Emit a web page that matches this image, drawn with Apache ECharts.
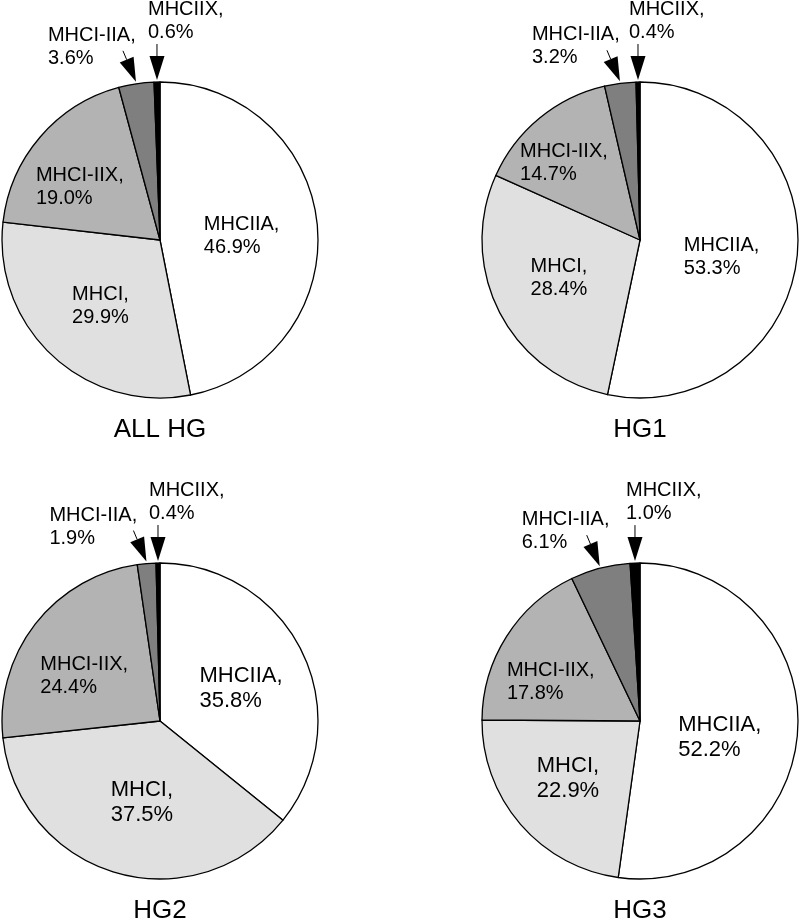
<!DOCTYPE html>
<html><head><meta charset="utf-8">
<script src="https://cdn.jsdelivr.net/npm/echarts@6/dist/echarts.min.js"></script>
<style>html,body{margin:0;padding:0;background:#fff}#c{width:800px;height:922px}</style>
</head><body><div id="c"></div>
<script>
// ---- data ----
const categories = ['MHCIIA', 'MHCI', 'MHCI-IIX', 'MHCI-IIA', 'MHCIIX'];
const groupNames = ['ALL HG', 'HG1', 'HG2', 'HG3'];
const valuesAllHG = [46.9, 29.9, 19.0, 3.6, 0.6];
const valuesHG1   = [53.3, 28.4, 14.7, 3.2, 0.4];
const valuesHG2   = [35.8, 37.5, 24.4, 1.9, 0.4];
const valuesHG3   = [52.2, 22.9, 17.8, 6.1, 1.0];
const sliceColors = ['#ffffff', '#e0e0e0', '#b3b3b3', '#7f7f7f', '#000000'];

// ---- layout ----
const groups = [valuesAllHG, valuesHG1, valuesHG2, valuesHG3];
const centers = [[160, 240], [640, 240], [160, 721], [640, 721]];
const titleTops = [417, 417, 898, 898];
const R = 158;
const FONT = "'Liberation Sans', Arial, Helvetica, sans-serif";
const insideOffsets = [
  [[0, 4], [-4, 6], [-18, 0]],
  [[0, 8], [-8, 1], [-24, -14]],
  [[7, 3], [5, 3], [-11, 5]],
  [[-2, 11], [-10, 4], [-20, 5]]
];
const insideFont = [[20, 20, 20], [20, 20, 20], [22, 22, 20], [22, 22, 20]];
const arrowVec = {3: [-13, -31], 4: [0, -36]};
const outsideLabelDx = [[0, 0], [0, 0], [-9, 0], [10, 0]];

function midAngle(vals, i) {
  const total = vals.reduce((a, b) => a + b, 0);
  let s = 0;
  for (let k = 0; k < i; k++) s += vals[k];
  return (s + vals[i] / 2) / total * 2 * Math.PI;
}
function tipPoint(g, i) {
  const a = midAngle(groups[g], i);
  const c = centers[g];
  return [c[0] + (R + 2) * Math.sin(a), c[1] - (R + 2) * Math.cos(a)];
}
function tailPoint(g, i) {
  const t = tipPoint(g, i), v = arrowVec[i];
  return [t[0] + v[0], t[1] + v[1]];
}

function makeLayout(g) {
  return function (params) {
    const i = params.dataIndex;
    if (i < 3) {
      const r = params.labelRect;
      return { x: r.x + insideOffsets[g][i][0], y: r.y + insideOffsets[g][i][1], align: 'left', verticalAlign: 'top' };
    }
    const tail = tailPoint(g, i);
    if (i === 3) {
      return { x: tail[0] - 75 + outsideLabelDx[g][0], y: tail[1] - 27, align: 'left', verticalAlign: 'top' };
    }
    return { x: tail[0] - 9 + outsideLabelDx[g][1], y: tail[1] - 46, align: 'left', verticalAlign: 'top' };
  };
}

const series = groups.map((vals, g) => ({
  type: 'pie',
  center: centers[g],
  radius: [0, R],
  startAngle: 90,
  clockwise: true,
  avoidLabelOverlap: false,
  silent: true,
  animation: false,
  itemStyle: { borderColor: '#000', borderWidth: 1.3 },
  labelLine: { show: false },
  labelLayout: makeLayout(g),
  label: {
    color: '#000',
    fontFamily: FONT,
    formatter: p => p.name + ',\n' + p.value.toFixed(1) + '%'
  },
  data: categories.map((name, i) => ({
    name: name,
    value: vals[i],
    itemStyle: { color: sliceColors[i] },
    label: i < 3
      ? { position: 'inside', fontSize: insideFont[g][i], lineHeight: Math.round(insideFont[g][i] * 1.15) }
      : { position: 'outside', fontSize: 20, lineHeight: 23 }
  }))
}));

const graphics = [];
groups.forEach((vals, g) => {
  [3, 4].forEach(i => {
    const tip = tipPoint(g, i);
    const tail = tailPoint(g, i);
    const dx = tip[0] - tail[0], dy = tip[1] - tail[1];
    const len = Math.hypot(dx, dy);
    const ux = dx / len, uy = dy / len;
    const headLen = 24, halfW = 7.5;
    const bx = tip[0] - ux * headLen, by = tip[1] - uy * headLen;
    const px = -uy, py = ux;
    graphics.push({
      type: 'line', z: 100, silent: true,
      shape: { x1: tail[0], y1: tail[1], x2: bx, y2: by },
      style: { stroke: '#000', lineWidth: 1 }
    });
    graphics.push({
      type: 'polygon', z: 100, silent: true,
      shape: { points: [[tip[0], tip[1]], [bx + px * halfW, by + py * halfW], [bx - px * halfW, by - py * halfW]] },
      style: { fill: '#000' }
    });
  });
});

const chart = echarts.init(document.getElementById('c'), null, { renderer: 'canvas' });
chart.setOption({
  backgroundColor: '#ffffff',
  animation: false,
  title: groupNames.map((name, g) => ({
    text: name,
    left: centers[g][0],
    top: titleTops[g],
    textAlign: 'center',
    padding: 0,
    textStyle: { fontFamily: FONT, fontSize: 26, fontWeight: 'normal', color: '#000' }
  })),
  series: series,
  graphic: graphics
});
</script>
</body></html>
